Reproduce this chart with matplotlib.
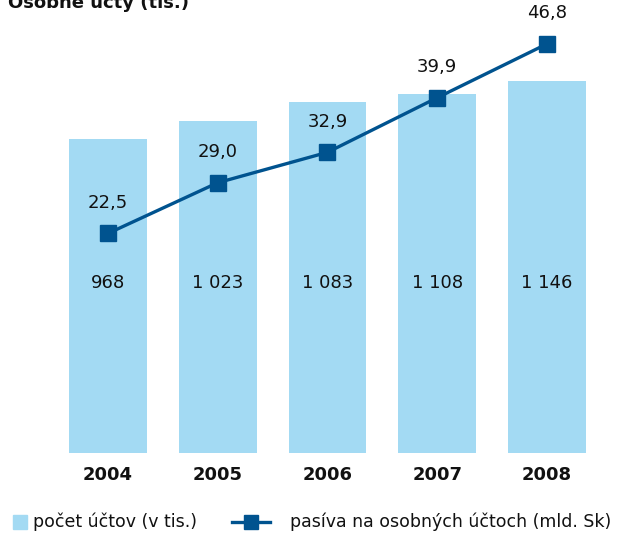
import matplotlib.pyplot as plt

plt.rcParams['font.family'] = ['DejaVu Sans']

roky = ['2004', '2005', '2006', '2007', '2008']
pocet_uctov = [968, 1023, 1083, 1108, 1146]
pocet_popisky = ['968', '1 023', '1 083', '1 108', '1 146']
pasiva = [22.5, 29.0, 32.9, 39.9, 46.8]

farba_stlpce = '#a3daf3'
farba_ciara = '#00538f'

W, H = 619, 533
fig = plt.figure(figsize=(W / 100, H / 100), dpi=100)

# axes from pixel row 20 down to the bar baseline at row 453
top, base = 20, 453
ax = fig.add_axes([0, 1 - base / H, 1, (base - top) / H])
ax2 = ax.twinx()

x = list(range(len(roky)))
ax.bar(x, pocet_uctov, width=0.71, color=farba_stlpce, zorder=1)
ax.set_xlim(-108 / 109.75, (W - 108) / 109.75)
ax.set_ylim(0, (base - top) / 0.3244)

ax2.plot(x, pasiva, color=farba_ciara, lw=2.4, marker='s', ms=11.5,
         mec=farba_ciara, mfc=farba_ciara, zorder=3)
ax2.set_ylim(34.22 - (base - 142) / 7.8, 34.22 + (142 - top) / 7.8)

for a in (ax, ax2):
    a.set_axis_off()

for i, v in enumerate(pasiva):
    ax2.annotate(f'{v:.1f}'.replace('.', ','), (i, v), xytext=(0, 22),
                 textcoords='offset points', ha='center', va='center',
                 fontsize=13, color='#111111')

for i, lab in enumerate(pocet_popisky):
    fig.text((108 + 109.75 * i) / W, 1 - 283 / H, lab, ha='center', va='center',
             fontsize=13, color='#111111')
    fig.text((108 + 109.75 * i) / W, 1 - 475 / H, roky[i], ha='center', va='center',
             fontsize=13, fontweight='bold', color='#111111')

fig.text(8 / W, 1 - 3 / H, 'Osobné účty (tis.)', ha='left', va='center',
         fontsize=13, fontweight='bold', color='#111111')

# legend
fig.patches.append(plt.Rectangle((13 / W, 1 - 529 / H), 14 / W, 14 / H,
                                 transform=fig.transFigure, color=farba_stlpce))
fig.text(33 / W, 1 - 522 / H, 'počet účtov (v tis.)', ha='left', va='center',
         fontsize=12.5, color='#111111')
fig.lines.append(plt.Line2D([232 / W, 270 / W], [1 - 522 / H] * 2,
                            transform=fig.transFigure, color=farba_ciara, lw=2.4))
fig.lines.append(plt.Line2D([251 / W], [1 - 522 / H], transform=fig.transFigure,
                            marker='s', ms=10, color=farba_ciara))
fig.text(290 / W, 1 - 522 / H, 'pasíva na osobných účtoch (mld. Sk)', ha='left',
         va='center', fontsize=12.5, color='#111111')

fig.savefig('out.png', dpi=100)
